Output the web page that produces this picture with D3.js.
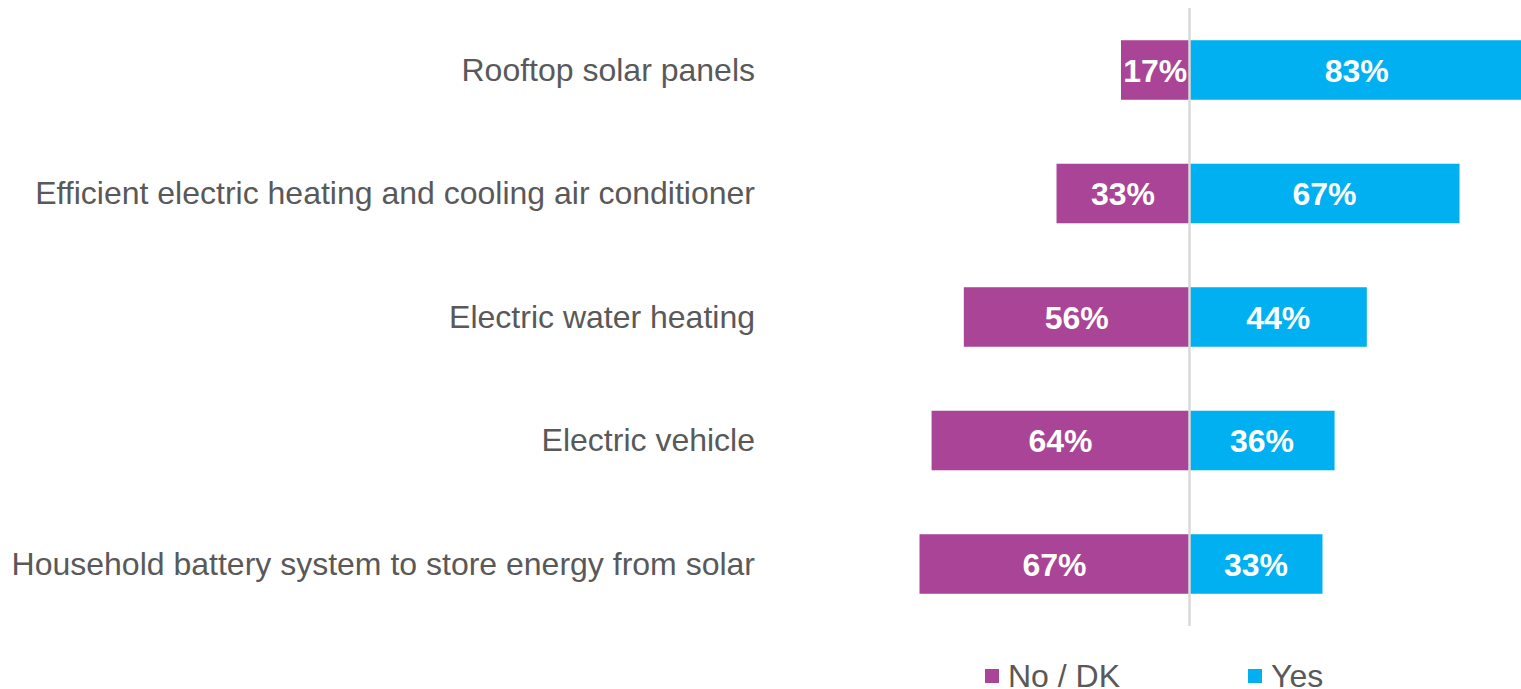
<!DOCTYPE html>
<html>
<head>
<meta charset="utf-8">
<script src="https://cdn.jsdelivr.net/npm/d3@7/dist/d3.min.js"></script>
<style>
  html, body { margin: 0; padding: 0; background: #fff; }
  svg { display: block; }
  text { font-family: "Liberation Sans", Arial, sans-serif; }
</style>
</head>
<body>
<svg id="chart" width="1521" height="689"></svg>
<script>
const categories = [
  "Rooftop solar panels",
  "Efficient electric heating and cooling air conditioner",
  "Electric water heating",
  "Electric vehicle",
  "Household battery system to store energy from solar"
];
const noValues = [17, 33, 56, 64, 67];
const yesValues = [83, 67, 44, 36, 33];
const seriesNames = ["No / DK", "Yes"];
const colors = ["#A94496", "#00B0F0"];

const svg = d3.select("#chart");
const centerX = 1189.5;
const pxPer = 4.03;

const x = d3.scaleLinear().domain([-100, 100]).range([centerX - 100 * pxPer, centerX + 100 * pxPer]);
const y = d3.scaleBand().domain(categories).range([8, 626]).paddingInner(0.518).paddingOuter(0.261);

const rows = categories.map((c, i) => ({ c, no: noValues[i], yes: yesValues[i] }));

// No bars
svg.append("g").selectAll("rect").data(rows).join("rect")
  .attr("x", d => x(-d.no))
  .attr("y", d => y(d.c))
  .attr("width", d => x(0) - x(-d.no))
  .attr("height", y.bandwidth())
  .attr("fill", colors[0]);

// Yes bars
svg.append("g").selectAll("rect").data(rows).join("rect")
  .attr("x", x(0))
  .attr("y", d => y(d.c))
  .attr("width", d => x(d.yes) - x(0))
  .attr("height", y.bandwidth())
  .attr("fill", colors[1]);

// Center line
svg.append("line")
  .attr("x1", x(0)).attr("x2", x(0))
  .attr("y1", y.range()[0]).attr("y2", y.range()[1])
  .attr("stroke", "#D9D9D9").attr("stroke-width", 2.5);

// Value labels
svg.append("g").selectAll("text").data(rows).join("text")
  .attr("x", d => (x(-d.no) + x(0)) / 2)
  .attr("y", d => y(d.c) + y.bandwidth() / 2)
  .attr("dy", "0.36em")
  .attr("text-anchor", "middle")
  .attr("fill", "#fff").attr("font-weight", "bold").attr("font-size", 32)
  .text(d => d.no + "%");

svg.append("g").selectAll("text").data(rows).join("text")
  .attr("x", d => (x(d.yes) + x(0)) / 2)
  .attr("y", d => y(d.c) + y.bandwidth() / 2)
  .attr("dy", "0.36em")
  .attr("text-anchor", "middle")
  .attr("fill", "#fff").attr("font-weight", "bold").attr("font-size", 32)
  .text(d => d.yes + "%");

// Category labels
svg.append("g").selectAll("text").data(categories).join("text")
  .attr("x", 755)
  .attr("y", d => y(d) + y.bandwidth() / 2)
  .attr("dy", "0.34em")
  .attr("text-anchor", "end")
  .attr("fill", "#595959").attr("font-size", 32)
  .text(d => d);

// Legend
const legendX = [985, 1248];
const lg = svg.append("g").selectAll("g").data(seriesNames).join("g")
  .attr("transform", (d, i) => `translate(${legendX[i]},669)`);
lg.append("rect").attr("width", 14).attr("height", 14).attr("fill", (d, i) => colors[i]);
lg.append("text").attr("x", 23).attr("y", 18).attr("fill", "#595959").attr("font-size", 32).text(d => d);
</script>
</body>
</html>
